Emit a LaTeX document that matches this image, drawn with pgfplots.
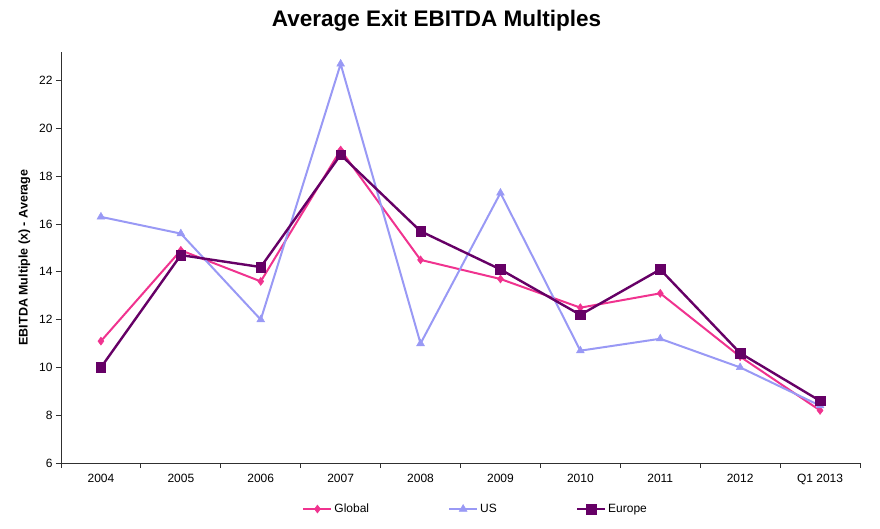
\documentclass[border=0pt]{standalone}
\usepackage{fontspec}
\setmainfont{Liberation Sans}
\usepackage{pgfplots}
\pgfplotsset{compat=1.18}
\definecolor{cGlobal}{HTML}{F0338F}
\definecolor{cUS}{HTML}{9999F5}
\definecolor{cEurope}{HTML}{660066}
\definecolor{axc}{HTML}{303030}
\begin{document}
\begin{tikzpicture}
\useasboundingbox (-61pt,-66pt) rectangle (819pt,463pt);
\begin{axis}[
  scale only axis,
  width=799pt, height=411pt,
  at={(0pt,0pt)}, anchor=south west,
  xmin=-0.5, xmax=9.5,
  ymin=6, ymax=23.2,
  axis x line=bottom, axis y line=left,
  axis line style={-, axc, line width=0.8pt},
  xtick={0,...,9},
  xticklabels={2004,2005,2006,2007,2008,2009,2010,2011,2012,Q1 2013},
  major x tick style={draw=none},
  minor xtick={-0.5,0.5,...,9.5},
  minor x tick style={axc, line width=0.8pt},
  minor tick length=5pt,
  ytick={6,8,...,22},
  y tick style={axc, line width=0.8pt},
  major tick length=5pt,
  tick align=outside,
  /pgf/number format/assume math mode=true,
  tick label style={font=\fontsize{12}{14}\selectfont, text=black},
  xticklabel style={yshift=-3pt},
  ylabel={\textbf{EBITDA Multiple (x) - Average}},
  ylabel style={font=\fontsize{12.5}{14}\selectfont, yshift=2pt},
  title={\textbf{Average Exit EBITDA Multiples}},
  title style={font=\fontsize{22.5}{26}\selectfont, at={(rel axis cs:0.47,1)}, anchor=center, yshift=25pt},
  legend columns=3,
  legend style={draw=none, at={(rel axis cs:0.519,-0.112)}, anchor=center,
    font=\fontsize{12}{14}\selectfont,
    /tikz/every even column/.append style={column sep=77pt},
    inner sep=0pt},
  legend cell align=left,
  legend image code/.code={
    \draw[#1, mark repeat=2, mark phase=2] plot coordinates {(0pt,0pt) (14pt,0pt) (28pt,0pt)};},
]
\addplot[cGlobal, line width=2pt, mark=diamond*, mark size=4pt, mark options={solid, fill=cGlobal, draw=cGlobal, line width=0.5pt}]
  coordinates {(0,11.1) (1,14.9) (2,13.6) (3,19.1) (4,14.5) (5,13.7) (6,12.5) (7,13.1) (8,10.45) (9,8.2)};
\addlegendentry{Global}
\addplot[cUS, line width=2pt, mark=triangle*, mark size=4.5pt, mark options={solid, fill=cUS, draw=cUS, line width=0.5pt}]
  coordinates {(0,16.3) (1,15.6) (2,12.0) (3,22.7) (4,11.0) (5,17.3) (6,10.7) (7,11.2) (8,10.0) (9,8.4)};
\addlegendentry{US}
\addplot[cEurope, line width=2.4pt, mark=square*, mark size=4.8pt, mark options={solid, fill=cEurope, draw=cEurope, line width=0.5pt}]
  coordinates {(0,10.0) (1,14.7) (2,14.2) (3,18.9) (4,15.7) (5,14.1) (6,12.2) (7,14.1) (8,10.6) (9,8.6)};
\addlegendentry{Europe}
\end{axis}
\end{tikzpicture}
\end{document}
